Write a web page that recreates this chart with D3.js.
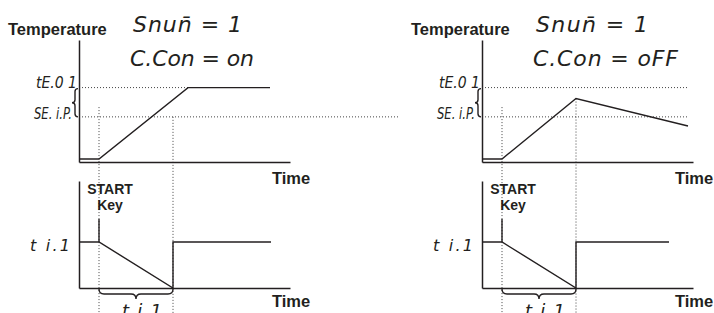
<!DOCTYPE html>
<html>
<head>
<meta charset="utf-8">
<script src="https://cdn.jsdelivr.net/npm/d3@7"></script>
<style>
  body { margin: 0; background: #fff; }
  .lbl { font-family: "Liberation Sans", Arial, sans-serif; font-weight: bold; fill: #231f20; }
  .seg { font-family: "DejaVu Sans", sans-serif; font-style: italic; fill: #231f20; }
  .dot { stroke: #444; stroke-width: 1; stroke-dasharray: 1, 2; fill: none; }
  .ln { stroke: #231f20; stroke-width: 1.4; fill: none; }
  .axis path { stroke: #231f20; stroke-width: 1.5; }
</style>
</head>
<body>
<div id="chart"></div>
<script>
// two cases side by side
var modes = ["C.Con = on", "C.Con = oFF"];
var snumText = "Snun\u0304 = 1";
var refLabels = ["tE.0 1", "SE. i.P."];
var timerLabel = "t i.1";

// temperature traces (time units, % of scale)
var tempTimeOn = [0, 10, 54.5, 95.5];
var tempValOn = [2.5, 2.5, 61, 61];
var tempTimeOff = [0, 10, 47, 103];
var tempValOff = [2.5, 2.5, 52, 29.5];

// timer traces
var timerTimeOn = [0, 10, 47, 47, 96];
var timerValOn = [43, 43, 0, 43, 43];
var timerTimeOff = [0, 10, 47, 47, 93.5];
var timerValOff = [43, 43, 0, 43, 43];

var setPoint = 37;
var tE01 = 61;
var startT = 10;
var endT = 47;
var startKeyTop = 64.5;
var timeMax = 105.5;
var tE01End = [54.5, 103];
var spEnd = [160.5, 103];
var endLineTop = [37, 52];
var startLineTop = 45;

var W = 714, H = 313;
var svg = d3.select("#chart").append("svg")
  .attr("width", W).attr("height", H);

var yT = d3.scaleLinear().domain([0, 100]).range([162, 40]);
var yK = d3.scaleLinear().domain([0, 100]).range([288, 181]);

function hBrace(x1, x2, y, h) {
  var m = (x1 + x2) / 2, q = h / 2;
  return "M" + x1 + "," + y + " Q" + x1 + "," + (y + q) + " " + (x1 + q) + "," + (y + q) +
    " L" + (m - q) + "," + (y + q) + " Q" + m + "," + (y + q) + " " + m + "," + (y + h) +
    " Q" + m + "," + (y + q) + " " + (m + q) + "," + (y + q) +
    " L" + (x2 - q) + "," + (y + q) + " Q" + x2 + "," + (y + q) + " " + x2 + "," + y;
}
function vBrace(x, y1, y2, w) {
  var m = (y1 + y2) / 2, q = w / 2;
  return "M" + x + "," + y1 + " Q" + (x - q) + "," + y1 + " " + (x - q) + "," + (y1 + q) +
    " L" + (x - q) + "," + (m - q) + " Q" + (x - q) + "," + m + " " + (x - w) + "," + m +
    " Q" + (x - q) + "," + m + " " + (x - q) + "," + (m + q) +
    " L" + (x - q) + "," + (y2 - q) + " Q" + (x - q) + "," + y2 + " " + x + "," + y2;
}

var traces = [
  { tT: tempTimeOn, tV: tempValOn, kT: timerTimeOn, kV: timerValOn },
  { tT: tempTimeOff, tV: tempValOff, kT: timerTimeOff, kV: timerValOff }
];

function seg(g, txt, x, y, size, len, anchor, adj) {
  return g.append("text").attr("class", "seg")
    .attr("x", x).attr("y", y)
    .attr("text-anchor", anchor || "start")
    .attr("textLength", len).attr("lengthAdjust", adj || "spacing")
    .style("font-size", size + "px").text(txt);
}

modes.forEach(function(mode, i) {
  var x0 = i == 0 ? 79 : 482;
  var x = d3.scaleLinear().domain([0, timeMax]).range([x0, x0 + 211]);
  var g = svg.append("g");
  var tr = traces[i];

  // dotted guides
  g.append("line").attr("class", "dot")
    .attr("x1", x(0)).attr("x2", x(tE01End[i]))
    .attr("y1", yT(tE01)).attr("y2", yT(tE01));
  g.append("line").attr("class", "dot")
    .attr("x1", x(0)).attr("x2", x(spEnd[i]))
    .attr("y1", yT(setPoint)).attr("y2", yT(setPoint));
  g.append("line").attr("class", "dot")
    .attr("x1", x(startT)).attr("x2", x(startT))
    .attr("y1", yT(startLineTop)).attr("y2", H);
  g.append("line").attr("class", "dot")
    .attr("x1", x(endT)).attr("x2", x(endT))
    .attr("y1", yT(endLineTop[i])).attr("y2", H);

  // axes (no ticks)
  g.append("g").attr("class", "axis")
    .attr("transform", "translate(0," + yT(0) + ")")
    .call(d3.axisBottom(x).ticks(0).tickSizeOuter(0));
  g.append("g").attr("class", "axis")
    .attr("transform", "translate(" + x0 + ",0)")
    .call(d3.axisLeft(yT).ticks(0).tickSizeOuter(0));
  g.append("g").attr("class", "axis")
    .attr("transform", "translate(0," + yK(0) + ")")
    .call(d3.axisBottom(x).ticks(0).tickSizeOuter(0));
  g.append("g").attr("class", "axis")
    .attr("transform", "translate(" + x0 + ",0)")
    .call(d3.axisLeft(yK).ticks(0).tickSizeOuter(0));

  // traces
  var tempLine = d3.line().x(function(d) { return x(d[0]); }).y(function(d) { return yT(d[1]); });
  var timerLine = d3.line().x(function(d) { return x(d[0]); }).y(function(d) { return yK(d[1]); });
  g.append("path").attr("class", "ln").attr("d", tempLine(d3.zip(tr.tT, tr.tV)));
  g.append("path").attr("class", "ln").attr("d", timerLine(d3.zip(tr.kT, tr.kV)));
  g.append("line").attr("class", "ln")
    .attr("x1", x(startT)).attr("x2", x(startT))
    .attr("y1", yK(tr.kV[1])).attr("y2", yK(startKeyTop));

  // braces
  g.append("path").attr("class", "ln").attr("stroke-width", 1.2)
    .attr("d", hBrace(x(startT), x(endT), yK(0) + 1, 10));
  g.append("path").attr("class", "ln").attr("stroke-width", 1.2)
    .attr("d", vBrace(x0 - 1, yT(tE01) + 1, yT(setPoint), 6));

  // text
  g.append("text").attr("class", "lbl").attr("x", x0 - 71).attr("y", 35)
    .style("font-size", "16.5px").text("Temperature");
  seg(g, snumText, x0 + 54, 32, 22, i == 0 ? 109 : 112);
  seg(g, mode, x0 + 51, 66, 22, i == 0 ? 124 : 145);
  seg(g, refLabels[0], x0 - 2, yT(tE01), 16, 41, "end", "spacingAndGlyphs");
  seg(g, refLabels[1], x0 - 7, yT(setPoint) + 2, 16, 38, "end", "spacingAndGlyphs");
  seg(g, timerLabel, x0 - 9, yK(tr.kV[0]) + 9, 16, 40, "end");
  seg(g, timerLabel, (x(startT) + x(endT)) / 2 + 6, 317, 18, 40, "middle");
  g.append("text").attr("class", "lbl").attr("x", x0 + 193).attr("y", 184)
    .style("font-size", "16.5px").text("Time");
  g.append("text").attr("class", "lbl").attr("x", x0 + 193).attr("y", 307)
    .style("font-size", "16.5px").text("Time");
  g.append("text").attr("class", "lbl").attr("x", x(startT) + 11).attr("y", 194)
    .attr("text-anchor", "middle").style("font-size", "14px").text("START");
  g.append("text").attr("class", "lbl").attr("x", x(startT) + 11).attr("y", 210)
    .attr("text-anchor", "middle").style("font-size", "14px").text("Key");
});
</script>
</body>
</html>
